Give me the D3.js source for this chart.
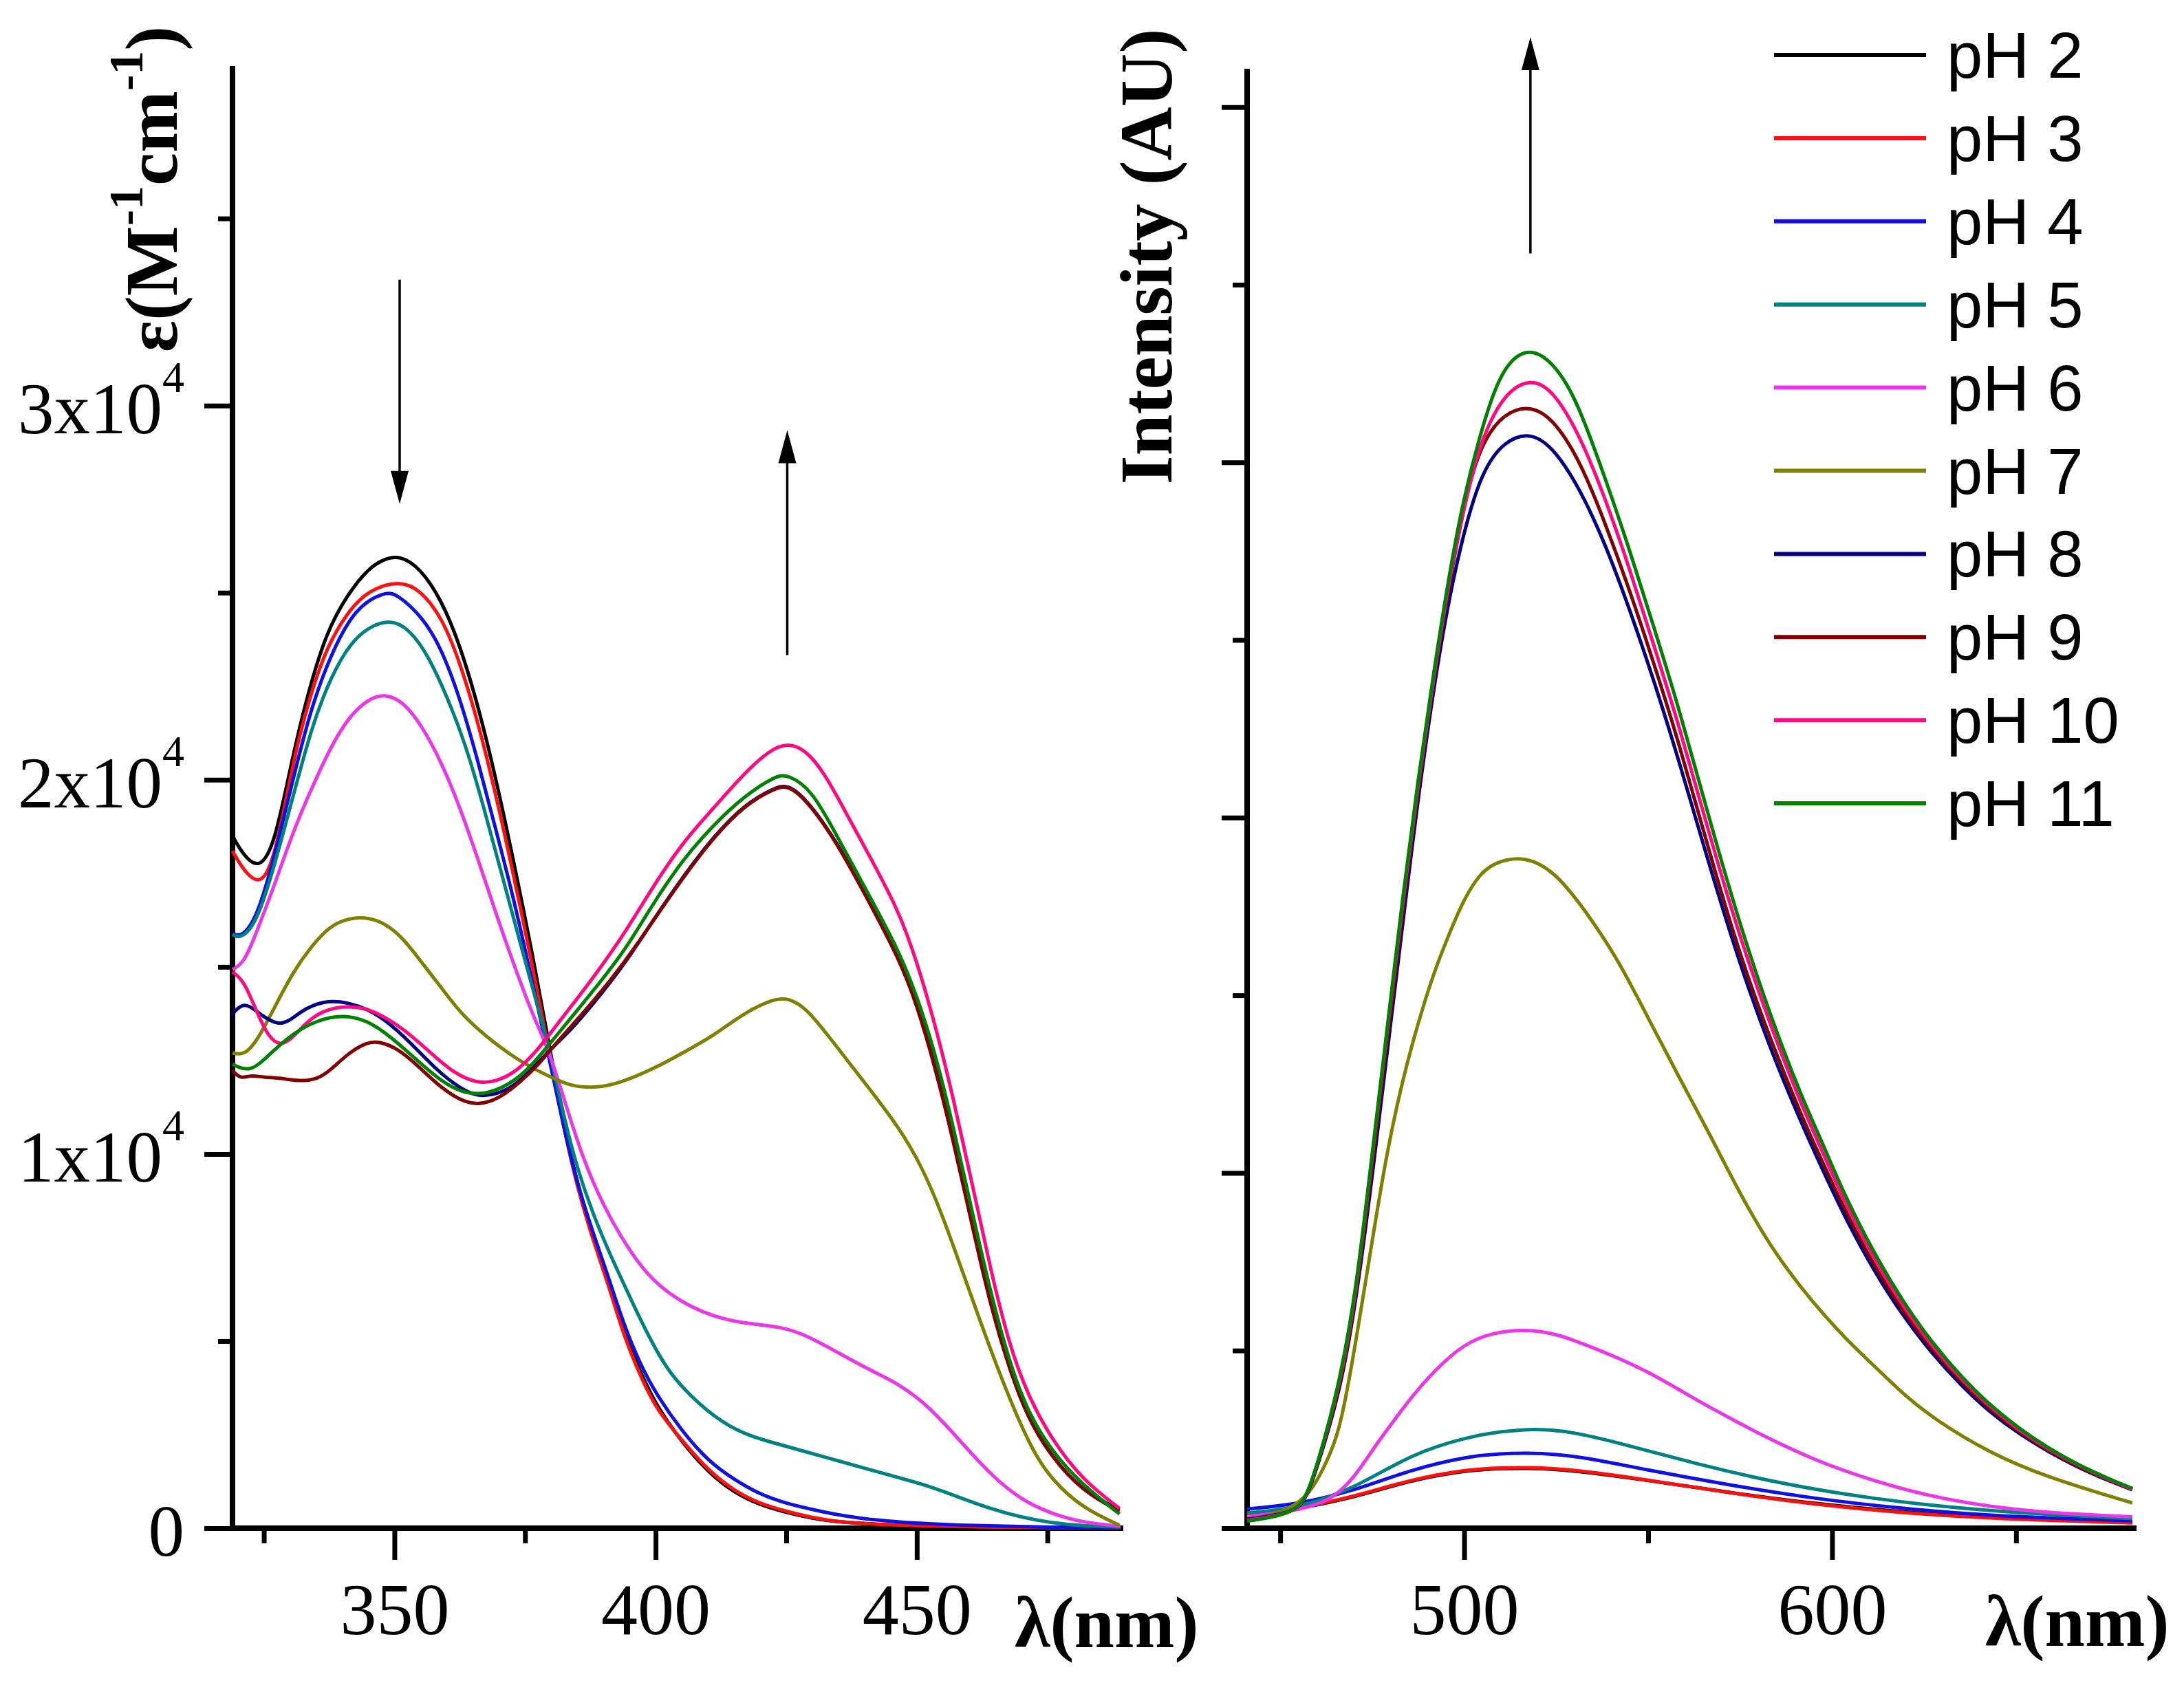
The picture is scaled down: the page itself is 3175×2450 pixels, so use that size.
<!DOCTYPE html>
<html lang="en">
<head>
<meta charset="UTF-8">
<title>Absorption and emission vs pH</title>
<script src="https://cdn.jsdelivr.net/npm/d3@7"></script>
<style>
  html, body { margin: 0; padding: 0; background: #fff; }
  svg { display: block; }
</style>
</head>
<body>
<div id="chart"></div>
<script>
const W = 3175, H = 2450;

// ---- data -------------------------------------------------------------
const phLabels = ["pH 2", "pH 3", "pH 4", "pH 5", "pH 6", "pH 7", "pH 8", "pH 9", "pH 10", "pH 11"];
const phColors = ["#000000", "#ff1010", "#1010e0", "#008080", "#e838e8",
                  "#808000", "#000080", "#800000", "#ff0a80", "#008000"];

// absorption panel ticks (epsilon in units of 1x10^4 M-1 cm-1)
const absXMajor = [350, 400, 450];
const absXMinor = [325, 375, 425, 475];
const absYMajor = [0, 1, 2, 3];
const absYMinor = [0.5, 1.5, 2.5, 3.5];
// emission panel ticks (intensity, arbitrary units)
const emXMajor = [500, 600];
const emXMinor = [450, 550, 650];
const emYMajor = [0, 1, 2, 3, 4];
const emYMinor = [0.5, 1.5, 2.5, 3.5];

// absorption spectra: [wavelength nm, epsilon / 1e4]
const absPH2 = [[319,1.85],[321,1.80],[324,1.76],[327,1.82],[330.6,2.07],[333.6,2.24],[337,2.395],[341,2.495],[345,2.565],[348,2.59],[351,2.60],[355,2.565],[359,2.48],[362.4,2.366],[366,2.20],[369.5,2.00],[373,1.77],[376.5,1.53],[379.5,1.30],[382.4,1.08],[385,0.92],[388,0.78],[391,0.66],[394,0.52],[397,0.42],[400,0.33],[405,0.23],[410,0.15],[415,0.095],[420,0.062],[425,0.042],[430,0.026],[435,0.016],[445,0.008],[460,0.003],[489,0]];
const absPH3 = [[319,1.81],[321,1.76],[324.2,1.715],[327,1.78],[330.6,2.05],[333.6,2.214],[337,2.354],[341,2.448],[345,2.507],[351,2.533],[355,2.507],[359,2.436],[362.4,2.32],[366,2.155],[369.5,1.956],[373,1.733],[376.5,1.498],[379.5,1.28],[382.4,1.07],[385,0.91],[388,0.77],[391,0.65],[394,0.51],[397,0.41],[400,0.32],[405,0.235],[410,0.155],[415,0.1],[420,0.065],[425,0.045],[430,0.028],[435,0.016],[445,0.008],[460,0.003],[489,0]];
const absPH4 = [[319,1.59],[320.6,1.578],[323.6,1.627],[327,1.792],[330.6,2.003],[334,2.19],[337.7,2.331],[342.4,2.46],[348.3,2.504],[350.6,2.495],[355.3,2.436],[358.9,2.354],[362.4,2.225],[366,2.05],[369.5,1.862],[373,1.674],[376.5,1.452],[379.5,1.264],[382.4,1.07],[385,0.92],[388,0.79],[391,0.67],[394,0.54],[397,0.44],[400,0.36],[405,0.26],[410,0.18],[415,0.13],[420,0.09],[425,0.066],[430,0.05],[435,0.035],[440,0.025],[447,0.015],[458,0.008],[470,0.004],[489,0]];
const absPH5 = [[319,1.586],[320.6,1.575],[323.6,1.616],[327,1.768],[330.6,1.956],[334.2,2.143],[337.7,2.272],[342.4,2.389],[348.9,2.434],[353,2.401],[356.5,2.331],[360,2.225],[363.6,2.096],[367,1.932],[370.6,1.745],[374.2,1.557],[377.7,1.381],[380,1.26],[382.4,1.10],[385,0.96],[388,0.84],[391,0.74],[394,0.65],[397,0.56],[399.4,0.494],[402,0.43],[405.3,0.372],[411.2,0.296],[417,0.25],[422.9,0.227],[428.8,0.204],[434.7,0.181],[440.6,0.158],[446.5,0.135],[452.3,0.113],[458.2,0.082],[464.1,0.052],[470,0.029],[475.9,0.014],[481.8,0.006],[489,0.003]];
const absPH6 = [[319,1.493],[321.2,1.51],[323.6,1.592],[327.1,1.721],[330.6,1.862],[334.2,1.979],[337.7,2.085],[341.2,2.167],[344.8,2.214],[348,2.231],[351.8,2.208],[355.3,2.143],[358.9,2.05],[362.4,1.932],[365.9,1.792],[369.5,1.64],[373,1.50],[376.5,1.37],[379.5,1.28],[382.4,1.15],[386,0.99],[390,0.86],[395,0.74],[399.4,0.66],[405.3,0.60],[411.2,0.565],[417,0.547],[424,0.539],[428.8,0.516],[434.7,0.471],[440.6,0.425],[446.5,0.387],[452.3,0.326],[458.2,0.235],[464.1,0.143],[470,0.075],[475.9,0.038],[481.8,0.015],[489,0.005]];
const absPH7 = [[319,1.27],[321.2,1.264],[323.6,1.299],[327.1,1.393],[330.6,1.487],[334.2,1.557],[337.7,1.61],[341.2,1.63],[344.8,1.633],[348.3,1.616],[351.8,1.575],[355.3,1.51],[358.9,1.446],[362.4,1.381],[365.9,1.334],[369.5,1.293],[373,1.258],[376.5,1.229],[380,1.205],[383.6,1.182],[388.3,1.176],[393,1.188],[400,1.23],[405.3,1.271],[411.2,1.317],[417,1.378],[422.9,1.416],[425.3,1.416],[428.8,1.393],[434.7,1.286],[440.6,1.18],[446.5,1.073],[451,0.966],[454.7,0.844],[458.2,0.707],[461.7,0.57],[465.3,0.433],[468.8,0.311],[472.3,0.204],[475.9,0.128],[481.8,0.053],[488.8,0.008]];
const absPH8 = [[319,1.375],[321.2,1.407],[323.6,1.381],[328.3,1.334],[331.8,1.381],[336.5,1.411],[341.2,1.405],[344.8,1.387],[348.3,1.358],[353,1.299],[357.7,1.229],[362.4,1.176],[365.9,1.153],[369.5,1.159],[373,1.182],[376.5,1.229],[380,1.282],[383.6,1.328],[388.3,1.405],[394.2,1.51],[399.4,1.622],[405.3,1.743],[411.2,1.85],[417,1.934],[422.9,1.98],[425.3,1.987],[428.8,1.95],[434.7,1.835],[440.6,1.683],[446.5,1.53],[450,1.408],[453.5,1.24],[457,1.042],[460.6,0.814],[464.1,0.6],[467.6,0.433],[471.2,0.296],[475.9,0.189],[481.8,0.098],[488.8,0.05]];
const absPH9 = [[319,1.223],[320.6,1.20],[322.4,1.211],[324.8,1.205],[328.3,1.203],[331.8,1.194],[335.3,1.20],[337.7,1.223],[341.2,1.27],[344.8,1.299],[347.1,1.301],[350.6,1.282],[354.2,1.24],[358.9,1.176],[363.6,1.135],[367.1,1.133],[370.6,1.153],[374.2,1.194],[377.7,1.24],[380,1.282],[388.3,1.41],[394.2,1.515],[399.4,1.62],[405.3,1.74],[411.2,1.848],[417,1.932],[422.9,1.978],[425.3,1.985],[428.8,1.948],[434.7,1.833],[440.6,1.68],[446.5,1.525],[450,1.40],[453.5,1.232],[457,1.035],[460.6,0.808],[464.1,0.595],[467.6,0.43],[471.2,0.294],[475.9,0.188],[481.8,0.098],[488.8,0.045]];
const absPH10 = [[319,1.487],[321.2,1.463],[323.6,1.381],[325.9,1.311],[328.3,1.288],[330.6,1.311],[334.2,1.369],[338.9,1.395],[343.6,1.393],[347.1,1.375],[351.8,1.334],[356.5,1.276],[361.2,1.217],[365.9,1.188],[369.5,1.194],[373,1.217],[376.5,1.264],[378.9,1.305],[382.4,1.369],[388.3,1.475],[394.2,1.592],[399.4,1.713],[405.3,1.835],[411.2,1.926],[417,2.018],[421.8,2.079],[425.3,2.099],[428.8,2.079],[432.3,2.018],[435.9,1.926],[440.6,1.805],[446.5,1.652],[450,1.515],[453.5,1.347],[457,1.149],[460.6,0.92],[464.1,0.692],[467.6,0.494],[471.2,0.356],[475.9,0.235],[481.8,0.128],[488.8,0.053]];
const absPH11 = [[319,1.24],[322.4,1.217],[325.9,1.264],[330.6,1.323],[335.3,1.358],[340,1.372],[344.8,1.358],[349.5,1.311],[354.2,1.252],[358.9,1.194],[363.6,1.159],[368.3,1.161],[373,1.194],[376.5,1.24],[380,1.299],[388.3,1.44],[394.2,1.545],[399.4,1.667],[405.3,1.789],[411.2,1.881],[417,1.957],[422.9,2.01],[425.3,2.015],[430,1.972],[434.7,1.85],[440.6,1.698],[446.5,1.545],[450,1.423],[453.5,1.271],[457,1.073],[460.6,0.844],[464.1,0.631],[467.6,0.448],[471.2,0.311],[475.9,0.204],[481.8,0.114],[488.8,0.038]];

// emission spectra: [wavelength nm, intensity AU]
const emPH2 = [[441,0.036],[454.2,0.053],[470,0.086],[485.7,0.136],[501.4,0.164],[510,0.168],[517.2,0.169],[525,0.166],[532.9,0.158],[548.6,0.137],[572.2,0.1],[595.8,0.068],[619.4,0.045],[643,0.029],[681.6,0.016]];
const emPH3 = [[441,0.038],[454.2,0.055],[470,0.088],[485.7,0.138],[501.4,0.166],[510,0.170],[517.2,0.171],[525,0.168],[532.9,0.16],[548.6,0.138],[572.2,0.099],[595.8,0.066],[619.4,0.043],[643,0.027],[681.6,0.015]];
const emPH4 = [[441,0.054],[454.2,0.066],[470,0.105],[485.7,0.166],[501.4,0.203],[510,0.210],[517.2,0.212],[525,0.208],[532.9,0.199],[548.6,0.166],[572.2,0.121],[595.8,0.082],[619.4,0.055],[643,0.034],[681.6,0.021]];
const emPH5 = [[441,0.043],[454.2,0.055],[470,0.11],[485.7,0.21],[501.4,0.258],[510,0.272],[517.2,0.279],[526.6,0.277],[540.8,0.244],[564.4,0.177],[588,0.121],[611.6,0.082],[635.2,0.055],[658.8,0.038],[681.6,0.027]];
const emPH6 = [[441,0.032],[454.2,0.049],[463.7,0.077],[470,0.14],[475.7,0.23],[480,0.29],[485.7,0.37],[491.6,0.44],[499.9,0.52],[508.3,0.552],[516.6,0.56],[525,0.548],[533.3,0.515],[541.7,0.48],[550,0.44],[558.4,0.39],[566.7,0.34],[575,0.295],[580.1,0.266],[595.8,0.188],[611.6,0.132],[627.3,0.088],[643,0.06],[658.8,0.043],[681.6,0.032]];
const emPH7 = [[441,0.025],[446.4,0.032],[454.2,0.062],[459,0.11],[463.7,0.21],[466.5,0.29],[470.5,0.52],[475,0.81],[479,1.06],[483.2,1.26],[487.4,1.42],[491.6,1.56],[495.8,1.67],[499.9,1.77],[504.1,1.84],[508.3,1.875],[516.6,1.893],[525,1.845],[533.3,1.733],[541.7,1.603],[550,1.436],[558.4,1.269],[566.7,1.11],[575,0.94],[583.4,0.79],[591.7,0.675],[597.4,0.605],[603.7,0.533],[611.6,0.455],[619.4,0.377],[627.3,0.31],[643,0.21],[658.8,0.143],[674.5,0.093],[681.6,0.071]];
const emPH8 = [[441,0.025],[448,0.035],[454.2,0.05],[457.4,0.085],[462.1,0.24],[466.5,0.40],[470.7,0.64],[475.7,1.047],[480,1.42],[484.1,1.77],[488,2.1],[494.1,2.531],[499.9,2.809],[504.9,2.976],[510.8,3.06],[518.3,3.087],[525,3.032],[531.7,2.92],[538.3,2.772],[545,2.586],[551.7,2.382],[558.4,2.16],[566.7,1.863],[575,1.584],[583.4,1.343],[591.7,1.139],[597.4,1.009],[603.7,0.87],[611.6,0.72],[619.4,0.595],[627.3,0.49],[635.2,0.40],[643,0.325],[650.9,0.265],[658.8,0.215],[666.6,0.172],[674.5,0.136],[681.6,0.108]];
const emPH9 = [[441,0.022],[448,0.032],[454.2,0.05],[457.4,0.087],[462.1,0.245],[466.5,0.41],[470.7,0.65],[475.3,1.05],[479.5,1.41],[483.6,1.77],[487.7,2.10],[492.5,2.45],[497,2.72],[501,2.93],[505,3.06],[511,3.14],[518,3.161],[524.5,3.12],[531.7,3.0],[538.3,2.83],[545,2.64],[551.7,2.43],[558.4,2.21],[566.7,1.90],[575,1.61],[583.4,1.37],[591.7,1.16],[597.4,1.03],[603.7,0.89],[611.6,0.735],[619.4,0.607],[627.3,0.50],[635.2,0.41],[643,0.333],[650.9,0.27],[658.8,0.218],[666.6,0.175],[674.5,0.138],[681.6,0.11]];
const emPH10 = [[441,0.022],[448,0.032],[454.2,0.05],[457.4,0.088],[462.1,0.25],[466.5,0.42],[470.7,0.665],[475,1.05],[479.2,1.41],[483.4,1.77],[487.5,2.10],[491.8,2.40],[496,2.68],[500.5,2.90],[504.5,3.06],[510.5,3.19],[518,3.239],[524.5,3.2],[531.7,3.07],[538.3,2.90],[545,2.70],[551.7,2.48],[558.4,2.26],[566.7,1.95],[575,1.66],[583.4,1.41],[591.7,1.19],[597.4,1.06],[603.7,0.91],[611.6,0.755],[619.4,0.622],[627.3,0.51],[635.2,0.418],[643,0.34],[650.9,0.275],[658.8,0.222],[666.6,0.178],[674.5,0.14],[681.6,0.11]];
const emPH11 = [[441,0.02],[448,0.03],[454.2,0.05],[457.4,0.09],[462.1,0.25],[466.5,0.43],[470.7,0.675],[474.9,1.047],[479,1.399],[483.2,1.77],[487.4,2.104],[491.6,2.401],[495.8,2.679],[499.9,2.902],[504.1,3.069],[508,3.2],[512,3.285],[518,3.323],[524,3.28],[528,3.22],[531.7,3.143],[538.3,2.957],[545,2.753],[551.7,2.531],[558.4,2.308],[566.7,1.993],[575,1.696],[583.4,1.436],[591.7,1.214],[597.4,1.084],[603.7,0.93],[611.6,0.77],[619.4,0.635],[627.3,0.52],[635.2,0.425],[643,0.345],[650.9,0.28],[658.8,0.225],[666.6,0.18],[674.5,0.142],[681.6,0.112]];

const absSeries = [absPH2, absPH3, absPH4, absPH5, absPH6, absPH7, absPH8, absPH9, absPH10, absPH11];
const emSeries = [emPH2, emPH3, emPH4, emPH5, emPH6, emPH7, emPH8, emPH9, emPH10, emPH11];

// arrows in data units: [wavelength, from value, to value (tip)]
const absArrows = [[351, 3.336, 2.737], [425.2, 2.333, 2.934]];
const emArrows = [[518, 3.588, 4.197]];

// ---- drawing ----------------------------------------------------------
const serif = "'Liberation Serif', 'Times New Roman', serif";
const sans = "'Liberation Sans', Arial, sans-serif";

const svg = d3.select("#chart").append("svg")
    .attr("width", W).attr("height", H)
    .attr("viewBox", [0, 0, W, H])
    .style("background", "#fff");

const xA = d3.scaleLinear().domain([319, 489]).range([338, 1629]);
const yA = d3.scaleLinear().domain([0, 3.9]).range([2222, 100]);
const xE = d3.scaleLinear().domain([441, 682]).range([1813, 3102]);
const yE = d3.scaleLinear().domain([0, 4.1]).range([2222, 104]);

function drawFrame(x, y, xMajor, xMinor, yMajor, yMinor, yMajorLen) {
    const bottom = y.range()[0], left = x.range()[0];
    const g = svg.append("g");

    const tickStyle = sel => sel.selectAll("line").attr("stroke", "#000").attr("stroke-width", 7);

    g.append("g").attr("transform", `translate(0,${bottom})`)
        .call(d3.axisBottom(x).tickValues(xMajor).tickSize(46).tickSizeOuter(0))
        .call(a => a.select(".domain").remove())
        .call(tickStyle)
        .call(a => a.selectAll("text")
            .attr("y", 154).attr("dy", null)
            .attr("font-family", serif).attr("font-size", 106).attr("fill", "#000"));

    g.append("g").attr("transform", `translate(0,${bottom})`)
        .call(d3.axisBottom(x).tickValues(xMinor).tickSize(22).tickSizeOuter(0).tickFormat(""))
        .call(a => a.select(".domain").remove())
        .call(tickStyle);

    g.append("g").attr("transform", `translate(${left},0)`)
        .call(d3.axisLeft(y).tickValues(yMajor).tickSize(yMajorLen).tickSizeOuter(0).tickFormat(""))
        .call(a => a.select(".domain").remove())
        .call(tickStyle);

    g.append("g").attr("transform", `translate(${left},0)`)
        .call(d3.axisLeft(y).tickValues(yMinor).tickSize(21).tickSizeOuter(0).tickFormat(""))
        .call(a => a.select(".domain").remove())
        .call(tickStyle);

    // axis lines
    g.append("path")
        .attr("d", `M${left},${y.range()[1]}V${bottom}H${x.range()[1]}`)
        .attr("fill", "none").attr("stroke", "#000")
        .attr("stroke-width", 8).attr("stroke-linecap", "square");
}

function drawCurves(x, y, series) {
    const line = d3.line()
        .x(d => x(d[0])).y(d => y(d[1]))
        .curve(d3.curveBasis);
    svg.append("g").selectAll("path")
        .data(series)
        .join("path")
        .attr("d", line)
        .attr("fill", "none")
        .attr("stroke", (d, i) => phColors[i])
        .attr("stroke-width", 5)
        .attr("stroke-linejoin", "round");
}

function drawArrows(x, y, arrows) {
    const g = svg.append("g");
    arrows.forEach(([w, from, to]) => {
        const px = x(w), y0 = y(from), y1 = y(to);
        const dir = Math.sign(y1 - y0);
        const head = 48, half = 13;
        g.append("line")
            .attr("x1", px).attr("x2", px)
            .attr("y1", y0).attr("y2", y1 - dir * head * 0.8)
            .attr("stroke", "#000").attr("stroke-width", 3.5);
        g.append("path")
            .attr("d", `M${px},${y1}L${px - half},${y1 - dir * head}L${px + half},${y1 - dir * head}Z`)
            .attr("fill", "#000");
    });
}

// left panel: absorption
drawFrame(xA, yA, absXMajor, absXMinor, absYMajor, absYMinor, 41);
drawCurves(xA, yA, absSeries);
drawArrows(xA, yA, absArrows);

const yLabels = svg.append("g")
    .attr("font-family", serif).attr("font-size", 105).attr("fill", "#000")
    .attr("text-anchor", "end");
absYMajor.forEach(v => {
    const t = yLabels.append("text").attr("x", 268).attr("y", yA(v) + 40);
    if (v === 0) {
        t.text("0");
    } else {
        t.append("tspan").text(`${v}x10`);
        t.append("tspan").attr("font-size", 64).attr("dy", -60).text("4");
    }
});

const epsTitle = svg.append("text")
    .attr("transform", "translate(257,275) rotate(-90)")
    .attr("text-anchor", "middle")
    .attr("font-family", serif).attr("font-weight", "bold").attr("font-size", 108);
epsTitle.append("tspan").text("\u03b5(M");
epsTitle.append("tspan").attr("font-size", 70).attr("dy", -50).text("-1");
epsTitle.append("tspan").attr("dy", 50).text("cm");
epsTitle.append("tspan").attr("font-size", 70).attr("dy", -50).text("-1");
epsTitle.append("tspan").attr("dy", 50).text(")");

svg.append("text")
    .attr("x", 1475).attr("y", 2395)
    .attr("font-family", serif).attr("font-weight", "bold").attr("font-size", 105)
    .text("\u03bb(nm)");

// right panel: emission
drawFrame(xE, yE, emXMajor, emXMinor, emYMajor, emYMinor, 37);
drawCurves(xE, yE, emSeries);
drawArrows(xE, yE, emArrows);

svg.append("text")
    .attr("transform", "translate(1703,373) rotate(-90)")
    .attr("text-anchor", "middle")
    .attr("font-family", serif).attr("font-weight", "bold").attr("font-size", 108)
    .text("Intensity (AU)");

svg.append("text")
    .attr("x", 2886).attr("y", 2393)
    .attr("font-family", serif).attr("font-weight", "bold").attr("font-size", 105)
    .text("\u03bb(nm)");

// legend
const legend = svg.append("g").attr("transform", "translate(2579,80)");
const rows = legend.selectAll("g")
    .data(phLabels)
    .join("g")
    .attr("transform", (d, i) => `translate(0,${i * 120.9})`);
rows.append("line")
    .attr("x1", 0).attr("x2", 221)
    .attr("stroke", (d, i) => phColors[i])
    .attr("stroke-width", 6);
rows.append("text")
    .attr("x", 251).attr("y", 33)
    .attr("font-family", sans).attr("font-size", 94).attr("fill", "#000")
    .text(d => d);
</script>
</body>
</html>
